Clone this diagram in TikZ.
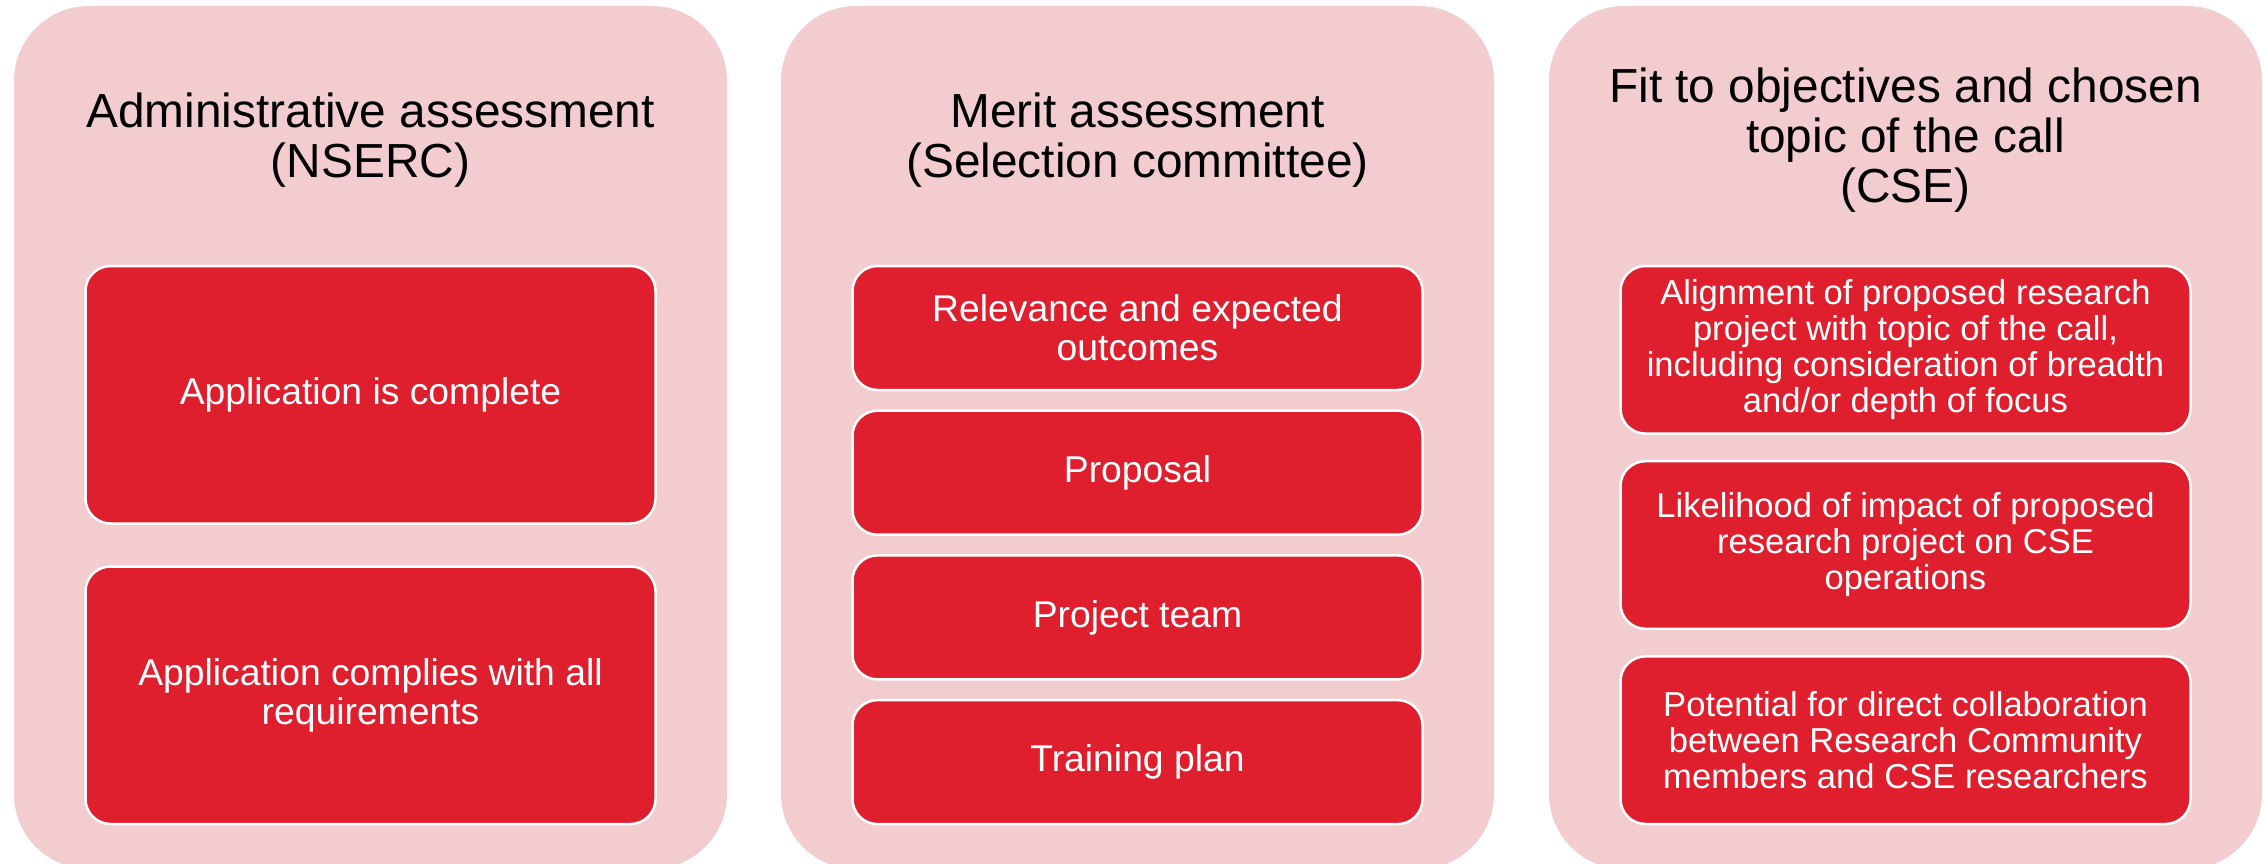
\documentclass[tikz,border=0pt]{standalone}
\usepackage{fontspec}
\setmainfont{Liberation Sans}
\usepackage{xcolor}
\definecolor{crit_pink}{RGB}{242, 204, 206}
\definecolor{crit_red}{RGB}{223, 31, 45}
\usetikzlibrary{positioning}

\begin{document}
\begin{tikzpicture}[x=1pt, y=-1pt,
    panel/.style={fill=crit_pink, rounded corners=75pt},
    head/.style={font=\fontsize{47.8}{50}\selectfont, align=center, inner sep=0pt},
    critbox/.style={draw=white, line width=2.5pt, fill=crit_red, text=white,
      rounded corners=25pt, align=center, inner sep=0pt, outer sep=0pt,
      minimum width=570pt, font=\fontsize{37.3}{39}\selectfont},
    fitbox/.style={critbox, minimum height=167.6pt,
      font=\fontsize{34.6}{36}\selectfont}]
  \useasboundingbox (0,0) rectangle (2265,864);
  \clip (0,0) rectangle (2265,864);

  % --- Panels ---
  \foreach \x in {14, 781, 1549} {
    \fill[panel] (\x,6) rectangle ++(713,863);
  }

  % --- Administrative assessment ---
  \node[head] (adm_t) at (370.5,140) {Administrative assessment\\(NSERC)};
  \node[critbox, minimum height=257.5pt] (adm_a) at (370.5,394.75)
    {Application is complete};
  \node[critbox, minimum height=257.5pt, below=43pt of adm_a] (adm_b)
    {Application complies with all\\requirements};

  % --- Merit assessment ---
  \node[head] (mer_t) at (1137.5,140) {Merit assessment\\(Selection committee)};
  \node[critbox, minimum height=124pt] (mer_a) at (1137.5,328)
    {Relevance and expected\\outcomes};
  \node[critbox, minimum height=124pt, below=20.7pt of mer_a] (mer_b) {Proposal};
  \node[critbox, minimum height=124pt, below=20.7pt of mer_b] (mer_c) {Project team};
  \node[critbox, minimum height=124pt, below=20.7pt of mer_c] (mer_d) {Training plan};

  % --- Fit to objectives ---
  \node[head] (fit_t) at (1905.5,140)
    {Fit to objectives and chosen\\topic of the call\\(CSE)};
  \node[fitbox] (fit_a) at (1905.5,349.8)
    {Alignment of proposed research\\project with topic of the call,\\including consideration of breadth\\and/or depth of focus};
  \node[fitbox, below=27.6pt of fit_a] (fit_b)
    {Likelihood of impact of proposed\\research project on CSE\\operations};
  \node[fitbox, below=27.6pt of fit_b] (fit_c)
    {Potential for direct collaboration\\between Research Community\\members and CSE researchers};
\end{tikzpicture}
\end{document}
